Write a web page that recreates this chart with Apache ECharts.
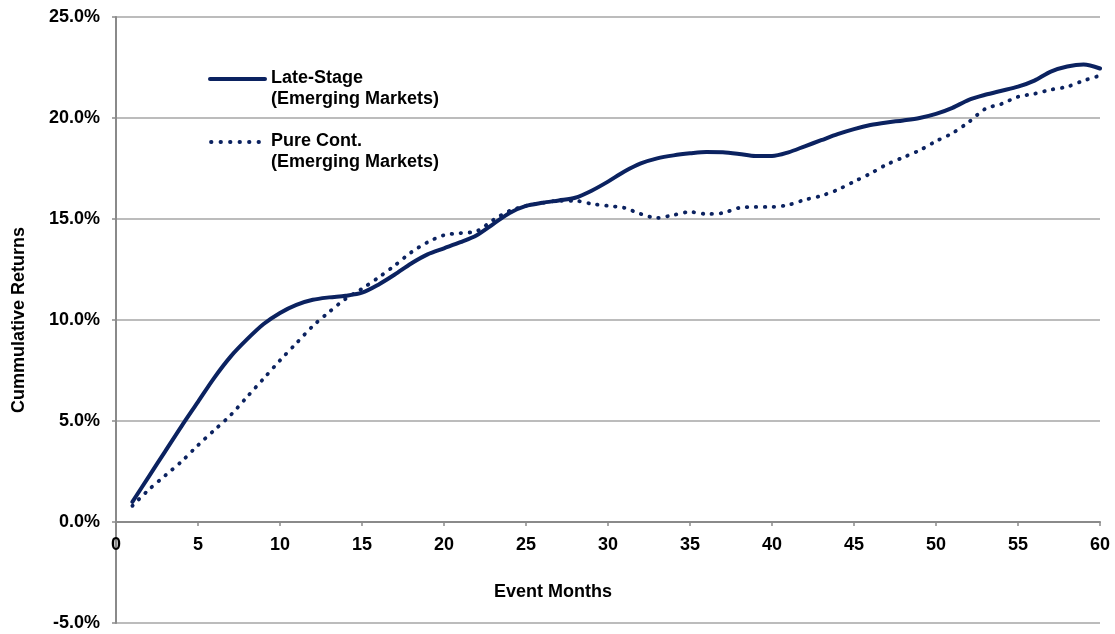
<!DOCTYPE html>
<html>
<head>
<meta charset="utf-8">
<title>Cumulative Returns by Event Month</title>
<script src="https://cdn.jsdelivr.net/npm/echarts@6/dist/echarts.min.js"></script>
<style>
  html, body { margin: 0; padding: 0; background: #ffffff; }
  #chart { width: 1115px; height: 634px; }
</style>
</head>
<body>
<div id="chart"></div>
<script>
// Event months 1..60
const months = [
  1, 2, 3, 4, 5, 6, 7, 8, 9, 10,
  11, 12, 13, 14, 15, 16, 17, 18, 19, 20,
  21, 22, 23, 24, 25, 26, 27, 28, 29, 30,
  31, 32, 33, 34, 35, 36, 37, 38, 39, 40,
  41, 42, 43, 44, 45, 46, 47, 48, 49, 50,
  51, 52, 53, 54, 55, 56, 57, 58, 59, 60
];

// Cumulative returns (%), late-stage emerging markets
const lateStage = [
  1.0, 2.25, 3.5, 4.75, 5.95, 7.15, 8.2, 9.05, 9.8, 10.35,
  10.75, 11.0, 11.12, 11.2, 11.35, 11.75, 12.25, 12.8, 13.25, 13.55,
  13.85, 14.2, 14.75, 15.3, 15.65, 15.8, 15.92, 16.05, 16.4, 16.85,
  17.35, 17.75, 18.0, 18.15, 18.25, 18.32, 18.3, 18.22, 18.12, 18.12,
  18.3, 18.6, 18.9, 19.2, 19.45, 19.65, 19.78, 19.88, 20.0, 20.2,
  20.5, 20.9, 21.15, 21.35, 21.55, 21.85, 22.3, 22.55, 22.65, 22.45
];

// Cumulative returns (%), pure continuation emerging markets
const pureCont = [
  0.8, 1.6, 2.3, 3.0, 3.8, 4.55, 5.3, 6.2, 7.1, 8.0,
  8.85, 9.7, 10.4, 11.05, 11.55, 12.1, 12.7, 13.35, 13.85, 14.2,
  14.3, 14.4, 14.95, 15.4, 15.65, 15.8, 15.9, 15.9, 15.75, 15.65,
  15.55, 15.25, 15.05, 15.2, 15.35, 15.25, 15.3, 15.55, 15.6, 15.6,
  15.7, 15.95, 16.15, 16.45, 16.85, 17.25, 17.7, 18.05, 18.4, 18.85,
  19.25, 19.8, 20.45, 20.7, 21.05, 21.2, 21.4, 21.55, 21.85, 22.1
];

const seriesNames = ['Late-Stage\n(Emerging Markets)', 'Pure Cont.\n(Emerging Markets)'];

const NAVY = '#0b2260';
const FONT = '"Liberation Sans", Arial, sans-serif';
const TXT = { color: '#000', fontFamily: FONT, fontWeight: 'bold', fontSize: 18 };

const Y_MIN = -5, Y_MAX = 25;
const GRID = { left: 116, right: 15, top: 17, bottom: 11 };
const CHART_H = 634;
// Shift the x axis up from the grid's bottom edge to the zero line
const plotH = CHART_H - GRID.top - GRID.bottom;
const zeroOffset = -plotH * (0 - Y_MIN) / (Y_MAX - Y_MIN);

const pairs = (ys) => months.map((m, i) => [m, ys[i]]);

const chart = echarts.init(document.getElementById('chart'), null, { renderer: 'canvas' });

chart.setOption({
  animation: false,
  backgroundColor: '#ffffff',
  grid: Object.assign({ containLabel: false, outerBoundsMode: 'none' }, GRID),
  xAxis: {
    type: 'value',
    min: 0, max: 60, interval: 5,
    offset: zeroOffset,
    name: 'Event Months',
    nameLocation: 'middle',
    nameGap: 61,
    nameTextStyle: Object.assign({}, TXT, { padding: [0, 110, 0, 0] }),
    axisLine: { onZero: false, lineStyle: { color: '#8a8a8a', width: 2 } },
    axisTick: { show: true, length: 4, lineStyle: { color: '#8a8a8a', width: 1.5 } },
    axisLabel: Object.assign({}, TXT, { margin: 14 }),
    splitLine: { show: false }
  },
  yAxis: {
    type: 'value',
    min: Y_MIN, max: Y_MAX, interval: 5,
    name: 'Cummulative Returns',
    nameLocation: 'middle',
    nameGap: 88,
    nameRotate: 90,
    nameTextStyle: TXT,
    axisLine: { show: true, lineStyle: { color: '#8a8a8a', width: 2 } },
    axisTick: { show: true, length: 4, lineStyle: { color: '#8a8a8a', width: 1.5 } },
    axisLabel: Object.assign({}, TXT, {
      margin: 16,
      formatter: (v) => v.toFixed(1) + '%'
    }),
    splitLine: { show: true, lineStyle: { color: '#a6a6a6', width: 1.5 } }
  },
  series: [
    {
      name: seriesNames[0],
      type: 'line',
      data: pairs(lateStage),
      smooth: 0.3,
      symbol: 'none',
      lineStyle: { color: NAVY, width: 4, cap: 'round', join: 'round' },
      z: 3
    },
    {
      name: seriesNames[1],
      type: 'line',
      data: pairs(pureCont),
      smooth: 0.3,
      symbol: 'none',
      lineStyle: { color: NAVY, width: 3.8, type: [0.5, 8.5], cap: 'round' },
      z: 2
    }
  ],
  graphic: [
    {
      type: 'line',
      shape: { x1: 210, y1: 79, x2: 265, y2: 79 },
      style: { stroke: NAVY, lineWidth: 4, lineCap: 'round' }
    },
    {
      type: 'text',
      left: 271, top: 68,
      style: Object.assign({}, TXT, { text: seriesNames[0], fill: '#000', lineHeight: 21, font: 'bold 18px ' + FONT })
    },
    {
      type: 'line',
      shape: { x1: 211, y1: 142, x2: 260, y2: 142 },
      style: { stroke: NAVY, lineWidth: 3.8, lineDash: [0.5, 9], lineCap: 'round' }
    },
    {
      type: 'text',
      left: 271, top: 131,
      style: Object.assign({}, TXT, { text: seriesNames[1], fill: '#000', lineHeight: 21, font: 'bold 18px ' + FONT })
    }
  ]
});
</script>
</body>
</html>
